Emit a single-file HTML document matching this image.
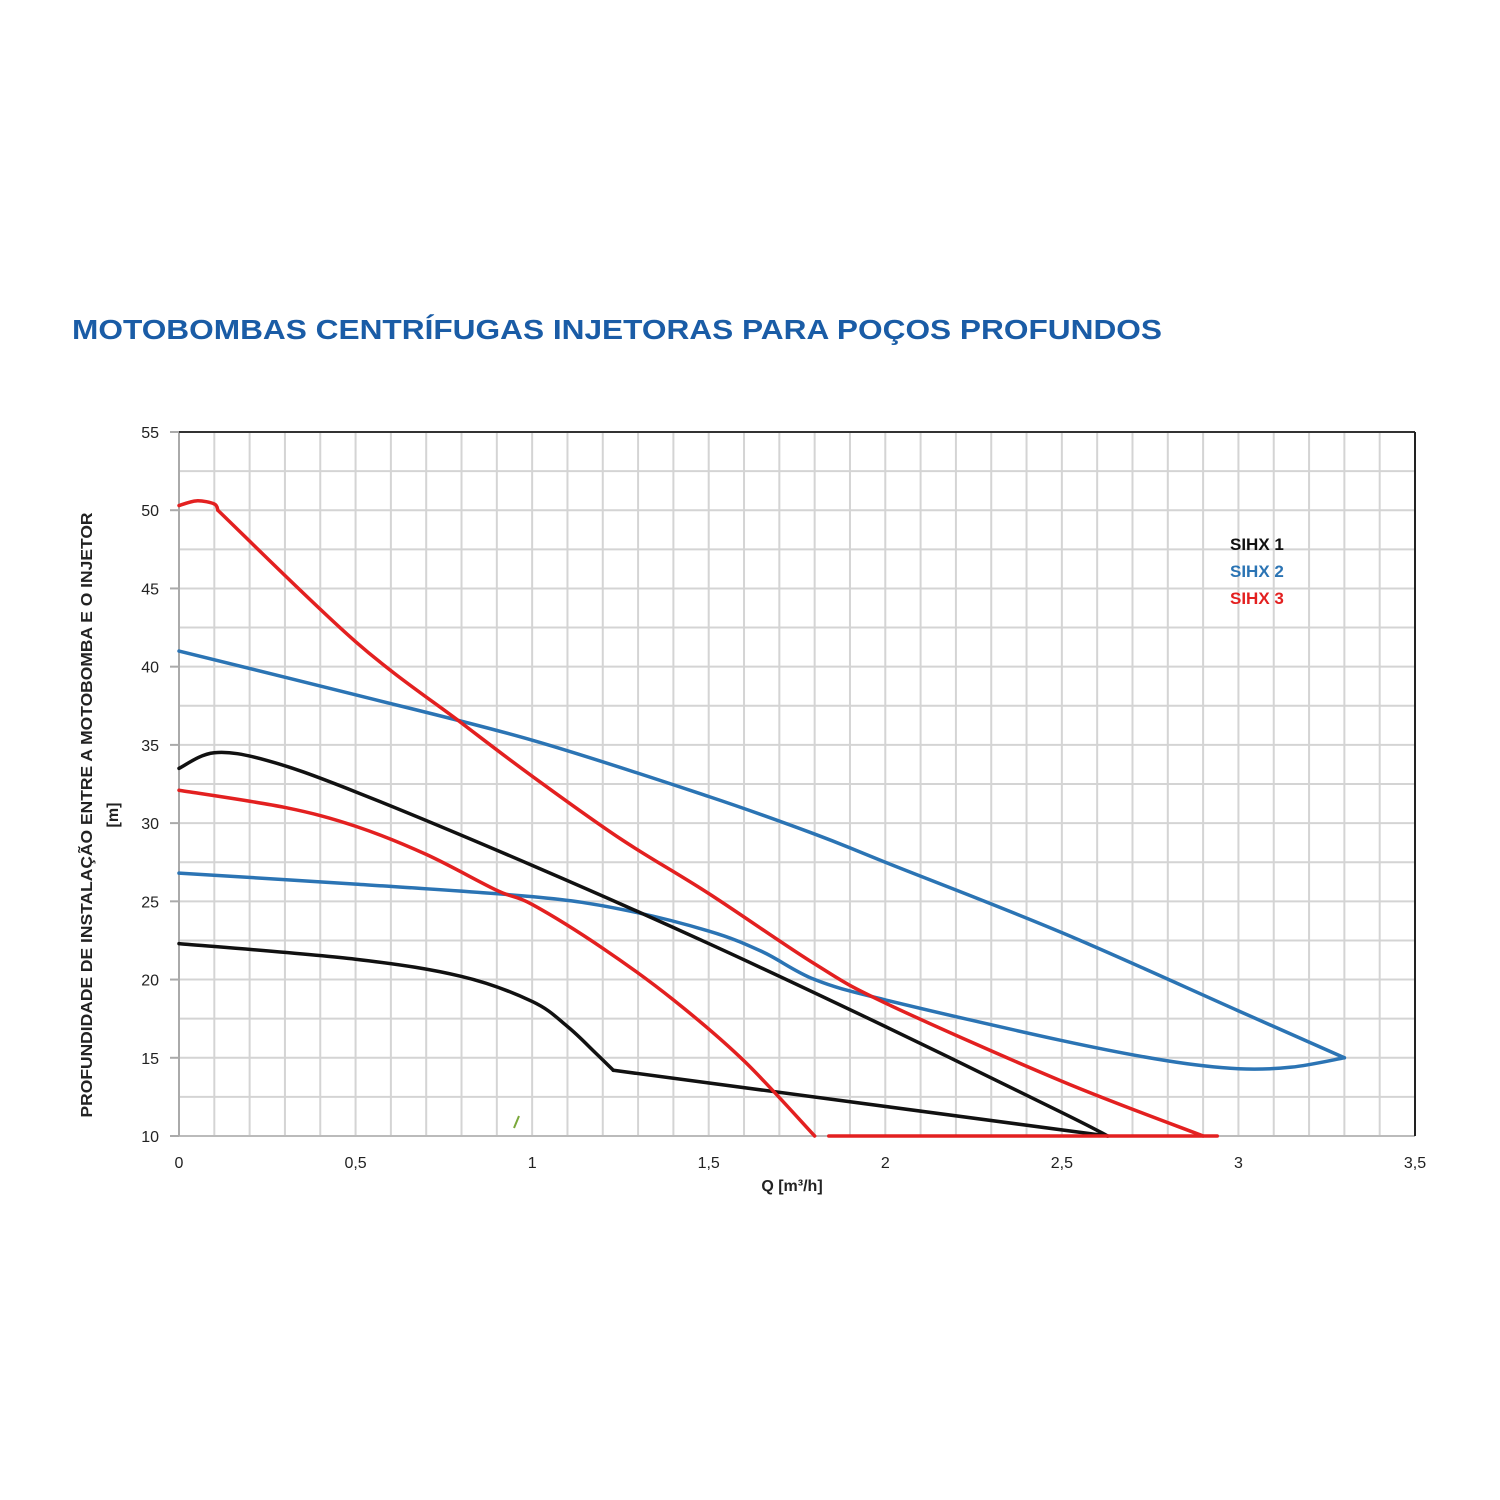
<!DOCTYPE html>
<html><head><meta charset="utf-8"><style>
html,body{margin:0;padding:0;background:#fff}
svg{display:block;font-family:"Liberation Sans",sans-serif}
</style></head><body>
<svg id="chart" width="1500" height="1500" viewBox="0 0 1500 1500">
<text x="72" y="339" font-size="28" font-weight="bold" fill="#1a5ca6" textLength="1090" lengthAdjust="spacingAndGlyphs">MOTOBOMBAS CENTRÍFUGAS INJETORAS PARA POÇOS PROFUNDOS</text>
<g id="grid"></g>
<g id="axes"></g>
<g id="series"></g>
<line x1="514" y1="1128" x2="519" y2="1116" stroke="#7aa83a" stroke-width="2"/>
<g>
<text x="1230" y="550" font-size="17" font-weight="bold" fill="#111">SIHX 1</text>
<text x="1230" y="577" font-size="17" font-weight="bold" fill="#2b74b4">SIHX 2</text>
<text x="1230" y="604" font-size="17" font-weight="bold" fill="#e32020">SIHX 3</text>
</g>
<text x="792" y="1191" font-size="16" font-weight="bold" fill="#222" text-anchor="middle">Q [m³/h]</text>
<g transform="translate(92,815) rotate(-90)">
<text x="0" y="0" font-size="16" font-weight="bold" fill="#222" text-anchor="middle" textLength="605" lengthAdjust="spacingAndGlyphs">PROFUNDIDADE DE INSTALAÇÃO ENTRE A MOTOBOMBA E O INJETOR</text>
<text x="0" y="26" font-size="16" font-weight="bold" fill="#222" text-anchor="middle">[m]</text>
</g>
</svg>
<script>
const xTicks = [0,0.5,1,1.5,2,2.5,3,3.5];
const xTickLabels = ["0","0,5","1","1,5","2","2,5","3","3,5"];
const yTicks = [10,15,20,25,30,35,40,45,50,55];
const yTickLabels = ["10","15","20","25","30","35","40","45","50","55"];
const sihx1UpperQ = [0,0.1,0.25,0.5,1.0,1.5,2.0,2.5,2.63];
const sihx1UpperH = [33.5,34.5,34,32,27.3,22.3,17,11.5,10];
const sihx1LowerQ = [0,0.5,0.8,1.0,1.1,1.18,1.23];
const sihx1LowerH = [22.3,21.3,20.2,18.6,17,15.3,14.2];
const sihx1TailQ = [1.23,2.63];
const sihx1TailH = [14.2,10];
const sihx2UpperQ = [0,0.5,1.0,1.5,1.8,2.0,2.5,3.0,3.3];
const sihx2UpperH = [41,38.2,35.3,31.7,29.3,27.5,23,18,15];
const sihx2LowerQ = [0,0.5,1.0,1.25,1.5,1.65,1.8,2.0,2.5,2.8,3.0,3.15,3.3];
const sihx2LowerH = [26.8,26.1,25.3,24.5,23.1,21.8,20,18.7,16.1,14.8,14.3,14.4,15];
const sihx3TopQ = [0,0.05,0.1,0.11];
const sihx3TopH = [50.3,50.6,50.4,50.0];
const sihx3UpperQ = [0.11,0.5,0.8,1.0,1.25,1.5,1.8,2.0,2.5,2.9];
const sihx3UpperH = [50.0,41.6,36.4,33,29,25.5,21,18.5,13.5,10];
const sihx3LowerQ = [0,0.3,0.5,0.7,0.9,1.0,1.2,1.4,1.6,1.8];
const sihx3LowerH = [32.1,31,29.8,28,25.7,24.8,22,18.7,14.8,10];
const sihx3BaseQ = [1.84,2.94];
const sihx3BaseH = [10,10];

const X0=179, X1=1415, Y0=1136, Y1=432;
const xs = q => X0 + (q/3.5)*(X1-X0);
const ys = v => Y0 - ((v-10)/45)*(Y0-Y1);
const NS="http://www.w3.org/2000/svg";
function mk(tag, attrs, parent){const e=document.createElementNS(NS,tag);for(const k in attrs)e.setAttribute(k,attrs[k]);parent.appendChild(e);return e;}
const grid=document.getElementById('grid'), axes=document.getElementById('axes'), series=document.getElementById('series');
for(let i=1;i<35;i++){
  const l=mk('line',{x1:xs(i/10),x2:xs(i/10),y1:Y1,y2:Y0,stroke:'#d4d4d4','stroke-width':2},grid);
  
  
}
for(let i=1;i<18;i++){
  const l=mk('line',{x1:X0,x2:X1,y1:ys(10+i*2.5),y2:ys(10+i*2.5),stroke:'#d4d4d4','stroke-width':2},grid);
  
  
}
[[X0,Y0,X1,Y0,'#bbb'],[X0,Y1,X0,Y0,'#aaa'],[X0,Y1,X1,Y1,'#333'],[X1,Y1,X1,Y0,'#222']].forEach(a=>{
  const l=mk('line',{x1:a[0],y1:a[1],x2:a[2],y2:a[3],stroke:a[4],'stroke-width':2},axes);
  
  
});
xTicks.forEach((t,i)=>{
  const e=mk('text',{x:xs(t),y:1168,'font-size':16,fill:'#222','text-anchor':'middle'},axes);
  e.textContent=xTickLabels[i];
  
  
});
yTicks.forEach((t,i)=>{
  const e=mk('text',{x:159,y:ys(t)+6,'font-size':16,fill:'#222','text-anchor':'end'},axes);
  e.textContent=yTickLabels[i];
  
  
  const k=mk('line',{x1:170,x2:X0,y1:ys(t),y2:ys(t),stroke:'#aaa','stroke-width':2},axes);
  
  
});
function pathD(Q,H){
  const p=Q.map((q,i)=>[xs(q),ys(H[i])]);
  if(p.length<3) return 'M'+p.map(a=>a.join(',')).join(' L');
  let d='M'+p[0][0]+','+p[0][1];
  for(let i=0;i<p.length-1;i++){
    const p0=p[i-1]||p[i],p1=p[i],p2=p[i+1],p3=p[i+2]||p2;
    const c1=[p1[0]+(p2[0]-p0[0])/6,p1[1]+(p2[1]-p0[1])/6];
    const c2=[p2[0]-(p3[0]-p1[0])/6,p2[1]-(p3[1]-p1[1])/6];
    d+=' C'+c1.join(',')+' '+c2.join(',')+' '+p2.join(',');
  }
  return d;
}
function curve(Q,H,color,name){
  const e=mk('path',{d:pathD(Q,H),fill:'none',stroke:color,'stroke-width':3.5,'stroke-linejoin':'round','stroke-linecap':'round'},series);
  
  
}
curve(sihx2UpperQ,sihx2UpperH,'#2b74b4','sihx2-upper-curve');
curve(sihx2LowerQ,sihx2LowerH,'#2b74b4','sihx2-lower-curve');
curve(sihx1UpperQ,sihx1UpperH,'#111','sihx1-upper-curve');
curve(sihx1LowerQ,sihx1LowerH,'#111','sihx1-lower-curve');
curve(sihx1TailQ,sihx1TailH,'#111','sihx1-lower-tail');
curve(sihx3TopQ,sihx3TopH,'#e32020','sihx3-top-arc');
curve(sihx3UpperQ,sihx3UpperH,'#e32020','sihx3-upper-curve');
curve(sihx3LowerQ,sihx3LowerH,'#e32020','sihx3-lower-curve');
curve(sihx3BaseQ,sihx3BaseH,'#e32020','sihx3-base-line');
</script>
</body></html>
